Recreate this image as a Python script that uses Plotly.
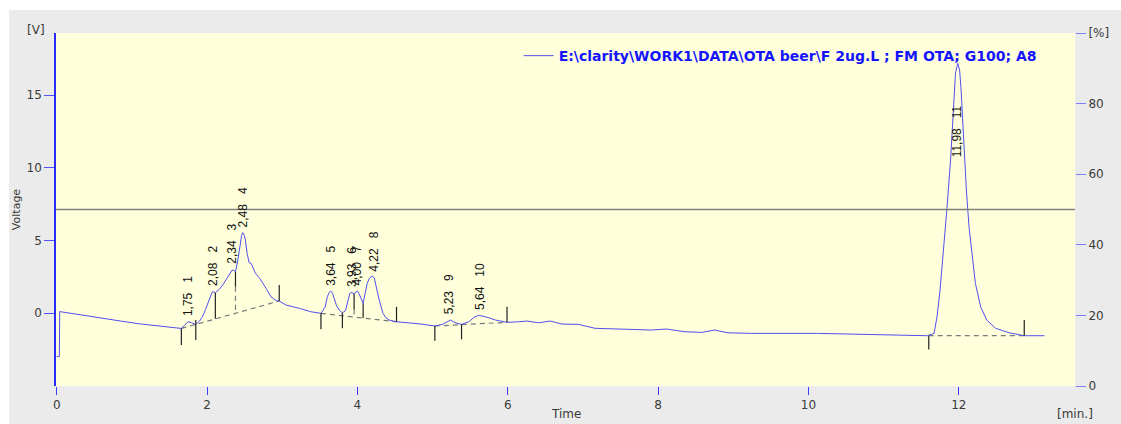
import numpy as np
import plotly.graph_objects as go

# ---------------- data ----------------
time_min = [0.000, 0.035, 0.040, 0.300, 0.575, 0.850, 1.100, 1.400, 1.658, 1.700,
            1.745, 1.790, 1.850, 1.900, 1.940, 1.980, 2.010, 2.046, 2.070, 2.090,
            2.110, 2.160, 2.210, 2.260, 2.300, 2.334, 2.360, 2.378, 2.410, 2.440,
            2.460, 2.475, 2.495, 2.510, 2.533, 2.560, 2.586, 2.610, 2.643, 2.700,
            2.745, 2.785, 2.850, 2.920, 2.960, 3.050, 3.230, 3.380, 3.515, 3.570,
            3.600, 3.625, 3.647, 3.670, 3.690, 3.720, 3.757, 3.800, 3.840, 3.867,
            3.900, 3.920, 3.956, 3.980, 4.000, 4.020, 4.045, 4.076, 4.100, 4.130,
            4.160, 4.200, 4.225, 4.244, 4.270, 4.290, 4.340, 4.380, 4.420, 4.520,
            4.820, 5.030, 5.130, 5.240, 5.300, 5.385, 5.480, 5.550, 5.610, 5.700,
            5.835, 5.990, 6.140, 6.255, 6.410, 6.565, 6.720, 6.940, 7.160, 7.470,
            7.910, 8.110, 8.360, 8.580, 8.750, 8.930, 9.240, 10.120, 10.800, 11.580,
            11.670, 11.710, 11.750, 11.800, 11.840, 11.890, 11.935, 11.955, 11.985, 12.010,
            12.030, 12.070, 12.100, 12.135, 12.180, 12.220, 12.290, 12.370, 12.490, 12.670,
            12.870, 13.140]
voltage = [-3.00, -3.00, 0.10, -0.12, -0.33, -0.55, -0.74, -0.92, -1.06, -0.85,
           -0.60, -0.66, -0.78, -0.55, -0.25, 0.25, 0.67, 1.24, 1.47, 1.45,
           1.40, 1.62, 1.93, 2.35, 2.73, 2.96, 2.92, 2.84, 3.65, 4.80,
           5.35, 5.53, 5.35, 5.02, 4.10, 3.46, 3.42, 3.15, 2.73, 2.39,
           2.05, 1.70, 1.12, 0.85, 0.83, 0.55, 0.32, 0.09, -0.02, 0.40,
           1.12, 1.42, 1.51, 1.35, 1.01, 0.55, 0.21, 0.02, 0.15, 0.67,
           1.36, 1.42, 1.31, 1.45, 1.51, 1.35, 1.01, 0.67, 1.30, 2.04,
           2.40, 2.55, 2.40, 1.93, 1.35, 0.89, -0.02, -0.33, -0.48, -0.60,
           -0.74, -0.89, -0.78, -0.48, -0.67, -0.78, -0.60, -0.30, -0.16, -0.25,
           -0.48, -0.64, -0.60, -0.55, -0.67, -0.55, -0.76, -0.78, -1.05, -1.12,
           -1.17, -1.10, -1.29, -1.33, -1.17, -1.36, -1.40, -1.40, -1.47, -1.56,
           -1.40, -0.25, 1.58, 4.34, 7.09, 10.53, 14.43, 16.50, 17.18, 16.72,
           15.35, 11.22, 8.47, 5.94, 3.65, 2.04, 0.43, -0.48, -1.05, -1.36,
           -1.56, -1.56]

peak_numbers = [1, 2, 3, 4, 5, 6, 7, 8, 9, 10, 11]
peak_rt = [1.75, 2.08, 2.34, 2.48, 3.64, 3.93, 4.00, 4.22, 5.23, 5.64, 11.98]

# integration baselines: (t start, V start, t end, V end)
baseline_t0 = [1.658, 3.515, 5.030, 11.600]
baseline_v0 = [-1.06, -0.02, -0.89, -1.56]
baseline_t1 = [2.960, 4.520, 5.990, 12.870]
baseline_v1 = [0.83, -0.60, -0.64, -1.56]

# peak start / end markers: time, V from, V to
marker_t = [1.658, 1.850, 2.960, 3.515, 3.800, 4.520, 5.030, 5.385, 5.990, 11.600, 12.870]
marker_v0 = [-1.06, -0.48, 0.83, -0.02, 0.02, -0.60, -0.89, -0.78, -0.64, -1.56, -1.56]
marker_v1 = [-2.20, -1.86, 1.93, -1.12, -1.05, 0.43, -1.90, -1.81, 0.43, -2.50, -0.48]

# drop lines between fused peaks: time, solid part end, dashed part end (baseline)
drop_t = [2.110, 2.378, 3.956, 4.076]
drop_v_solid = [-0.40, 1.81, 0.25, -0.34]
drop_v_base = [-0.40, -0.02, -0.27, -0.34]

threshold_pct = 50

legend_name = r"E:\clarity\WORK1\DATA\OTA beer\F 2ug.L ; FM OTA; G100; A8"

x_ticks = [0, 2, 4, 6, 8, 10, 12]
y_ticks = [0, 5, 10, 15]
y2_ticks = [0, 20, 40, 60, 80, 100]
y2_ticktext = ["0", "20", "40", "60", "80", "[%]"]

# ---------------- figure ----------------
X_RANGE = [-0.0093, 13.545]
Y_RANGE = [-5.02, 19.27]

fig = go.Figure()

# 50 % line on the right axis
fig.add_trace(go.Scatter(x=X_RANGE, y=[threshold_pct, threshold_pct], yaxis="y2",
                         mode="lines", line=dict(color="#7f7f78", width=1.5),
                         showlegend=False, hoverinfo="skip"))

# dashed baselines + dashed drop lines
dx, dy = [], []
for a, b, c, d in zip(baseline_t0, baseline_v0, baseline_t1, baseline_v1):
    dx += [a, c, None]
    dy += [b, d, None]
for t, s, b in zip(drop_t, drop_v_solid, drop_v_base):
    if s != b:
        dx += [t, t, None]
        dy += [s, b, None]
fig.add_trace(go.Scatter(x=dx, y=dy, mode="lines",
                         line=dict(color="#7a7a7a", width=1.2, dash="5px,4px"),
                         showlegend=False, hoverinfo="skip"))

# chromatogram
fig.add_trace(go.Scatter(x=time_min, y=voltage, mode="lines", name=legend_name,
                         line=dict(color="#5050ee", width=1), showlegend=True))

# solid markers
sx, sy = [], []
for t, a, b in zip(marker_t, marker_v0, marker_v1):
    sx += [t, t, None]
    sy += [a, b, None]
for t, s in zip(drop_t, drop_v_solid):
    v = float(np.interp(t, time_min, voltage))
    sx += [t, t, None]
    sy += [v, s, None]
fig.add_trace(go.Scatter(x=sx, y=sy, mode="lines", line=dict(color="#222222", width=1.2),
                         showlegend=False, hoverinfo="skip"))

# peak labels
for n, rt in zip(peak_numbers, peak_rt):
    apex = float(np.interp(rt, time_min, voltage))
    txt = f"{rt:.2f}".replace(".", ",") + "   " + str(n)
    inside = apex > 12
    fig.add_annotation(x=rt, y=apex, xref="x", yref="y", text=txt, showarrow=False,
                       textangle=-90, xanchor="center",
                       yanchor="top" if inside else "bottom",
                       yshift=-38 if inside else 4,
                       font=dict(family="Liberation Sans", size=12, color="#111111"))

axis_font = dict(family="DejaVu Sans", size=12, color="#3a3a3a")

fig.add_annotation(x=-0.0196, y=1.0085, xref="paper", yref="paper", text="[V]",
                   xanchor="center", yanchor="middle", showarrow=False, font=axis_font)
fig.add_annotation(x=-0.038, y=0.499, xref="paper", yref="paper", text="Voltage",
                   textangle=-90, xanchor="center", yanchor="middle", showarrow=False,
                   font=dict(family="DejaVu Sans", size=11, color="#3a3a3a"))
fig.add_annotation(x=1.0, y=-0.079, xref="paper", yref="paper", text="[min.]",
                   xanchor="center", yanchor="middle", showarrow=False, font=axis_font)
fig.add_annotation(x=0.5, y=-0.1048, xref="paper", yref="paper", text="Time",
                   xanchor="center", yanchor="bottom", showarrow=False, font=axis_font)

# page frame: white strips at top and left, gray elsewhere
fig.add_shape(type="rect", xref="paper", yref="paper", x0=-0.1, x1=1.1, y0=1.0652, y1=1.2,
              fillcolor="white", line=dict(width=0), layer="below")
fig.add_shape(type="rect", xref="paper", yref="paper", x0=-0.1, x1=-0.046, y0=-0.2, y1=1.2,
              fillcolor="white", line=dict(width=0), layer="below")

fig.update_layout(
    width=1121, height=424,
    margin=dict(l=56, r=43, t=33, b=38),
    paper_bgcolor="#ebebeb",
    plot_bgcolor="#ffffdc",
    font=dict(family="DejaVu Sans", size=12, color="#3a3a3a"),
    showlegend=True,
    legend=dict(x=0.454, y=0.98, xanchor="left", yanchor="top",
                bgcolor="rgba(0,0,0,0)",
                font=dict(family="DejaVu Sans", size=14, color="#1414ff", weight="bold")),
    xaxis=dict(range=X_RANGE, tickvals=x_ticks, ticks="outside", ticklen=8,
               tickcolor="#3c3cff", showline=False, showgrid=False, zeroline=False,
               tickfont=axis_font),
    yaxis=dict(range=Y_RANGE, tickvals=y_ticks, ticks="outside", ticklen=10,
               tickcolor="#5050ff", showline=True, linecolor="#2a2aff", linewidth=1.5,
               showgrid=False, zeroline=False, tickfont=axis_font),
    yaxis2=dict(range=[0, 100], overlaying="y", side="right", tickvals=y2_ticks,
                ticktext=y2_ticktext, ticks="outside", ticklen=10, tickcolor="#8080ff",
                showline=False, showgrid=False, zeroline=False, tickfont=axis_font),
)

fig.write_html("out.html", config={"displayModeBar": False},
               post_script="document.body.style.margin='0';document.body.style.padding='0';")
